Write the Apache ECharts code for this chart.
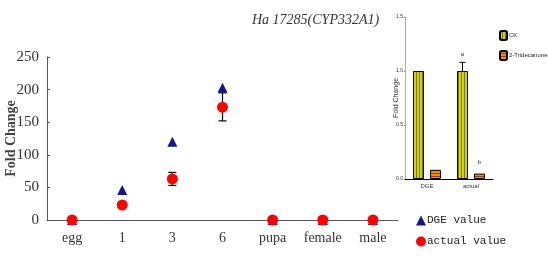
<!DOCTYPE html>
<html>
<head>
<meta charset="utf-8">
<script src="https://cdn.jsdelivr.net/npm/echarts@6/dist/echarts.min.js"></script>
<style>
html, body { margin: 0; padding: 0; background: #fff; }
#chart { width: 548px; height: 259px; }
</style>
</head>
<body>
<div id="chart"></div>
<script>
// main chart
var stages = ["egg", "1", "3", "6", "pupa", "female", "male"];
var dgeValues = [0, 46, 120, 203, 0, 0, 0];
var actualValues = [0, 23, 63, 173, 0, 0, 0];
var actualLow = [0, 23, 53, 152, 0, 0, 0];
var actualHigh = [0, 23, 73, 195, 0, 0, 0];
var mainTicks = [0, 50, 100, 150, 200, 250];

// inset chart
var insetCats = ["DGE", "actual"];
var ckValues = [1.0, 1.0];
var ckHigh = [1.0, 1.08];
var tridValues = [0.085, 0.05];
var ckLetters = ["", "a"];
var tridLetters = ["", "b"];

function stripes(bg, fg, vertical) {
	var c = document.createElement("canvas");
	c.width = 3;
	c.height = 3;
	var g = c.getContext("2d");
	g.fillStyle = bg;
	g.fillRect(0, 0, 3, 3);
	g.fillStyle = fg;
	if (vertical) g.fillRect(2, 0, 1, 3);
	else g.fillRect(0, 2, 3, 1);
	return { image: c, repeat: "repeat" };
}

var ckFill = stripes("#d4d400", "#7a7a00", true);
var tridFill = stripes("#ff8a00", "#a03c00", false);

function errorBar(capW) {
	return function (params, api) {
		var lo = api.coord([api.value(0), api.value(1)]);
		var hi = api.coord([api.value(0), api.value(2)]);
		if (Math.abs(lo[1] - hi[1]) < 0.5) return null;
		var st = { stroke: "#000", lineWidth: 1.2 };
		return {
			type: "group",
			children: [
				{ type: "line", shape: { x1: lo[0], y1: lo[1], x2: hi[0], y2: hi[1] }, style: st },
				{ type: "line", shape: { x1: lo[0] - capW, y1: lo[1], x2: lo[0] + capW, y2: lo[1] }, style: st },
				{ type: "line", shape: { x1: hi[0] - capW, y1: hi[1], x2: hi[0] + capW, y2: hi[1] }, style: st }
			]
		};
	};
}

var serif = "Liberation Serif";
var chart = echarts.init(document.getElementById("chart"));

chart.setOption({
	animation: false,
	title: {
		text: "Ha 17285(CYP332A1)",
		left: 247,
		top: 8,
		textStyle: { fontFamily: serif, fontStyle: "italic", fontWeight: "normal", fontSize: 14, color: "#333" }
	},
	legend: [{
		orient: "vertical",
		left: 411,
		top: 210,
		itemGap: 10,
		itemWidth: 10,
		itemHeight: 10,
		data: [
			{ name: "DGE value", icon: "triangle" },
			{ name: "actual value", icon: "circle" }
		],
		textStyle: { fontFamily: "Liberation Mono", fontSize: 11, color: "#222", padding: [0, 0, 0, -4] }
	}, {
		orient: "vertical",
		left: 494,
		top: 25,
		itemGap: 9,
		itemWidth: 7,
		itemHeight: 9,
		data: ["CK", "2-Tridecanone"],
		textStyle: { fontFamily: "Liberation Sans", fontSize: 6, color: "#222", padding: [0, 0, 0, -3] }
	}],
	grid: [
		{ left: 47, right: 150, top: 57, bottom: 39, outerBoundsMode: "none" },
		{ left: 405, right: 55, top: 17, bottom: 80, outerBoundsMode: "none" }
	],
	xAxis: [{
		type: "category",
		gridIndex: 0,
		data: stages,
		boundaryGap: true,
		axisLine: { lineStyle: { color: "#555" } },
		axisTick: { inside: true, length: 4, lineStyle: { color: "#555" } },
		axisLabel: { interval: 0, fontFamily: serif, fontSize: 14, color: "#333", margin: 11 }
	}, {
		type: "category",
		gridIndex: 1,
		data: insetCats,
		axisLine: { lineStyle: { color: "#000", width: 1.2 } },
		axisTick: { length: 2, lineStyle: { color: "#000" } },
		axisLabel: { interval: 0, fontFamily: "Liberation Sans", fontSize: 6, color: "#333", margin: 4 }
	}],
	yAxis: [{
		type: "value",
		gridIndex: 0,
		min: mainTicks[0],
		max: mainTicks[mainTicks.length - 1],
		interval: 50,
		name: "Fold Change",
		nameLocation: "middle",
		nameGap: 29,
		nameMoveOverlap: false,
		nameTextStyle: { fontFamily: serif, fontSize: 14, fontWeight: "bold", color: "#444" },
		splitLine: { show: false },
		axisLine: { show: true, lineStyle: { color: "#555" } },
		axisTick: { show: true, inside: true, length: 3, lineStyle: { color: "#555" } },
		axisLabel: { fontFamily: serif, fontSize: 15, color: "#333", margin: 8 }
	}, {
		type: "value",
		gridIndex: 1,
		min: 0,
		max: 1.5,
		interval: 0.5,
		name: "Fold Change",
		nameLocation: "middle",
		nameGap: 5,
		nameMoveOverlap: false,
		nameTextStyle: { fontFamily: "Liberation Sans", fontSize: 7, color: "#333" },
		splitLine: { show: false },
		axisLine: { show: true, lineStyle: { color: "#aaa" } },
		axisTick: { show: true, length: 1, lineStyle: { color: "#666" } },
		axisLabel: {
			fontFamily: "Liberation Sans", fontSize: 5, color: "#333", margin: 2,
			formatter: function (v) { return v.toFixed(1); }
		}
	}],
	series: [{
		name: "DGE value",
		type: "scatter",
		xAxisIndex: 0,
		yAxisIndex: 0,
		symbol: "triangle",
		symbolSize: 10,
		itemStyle: { color: "#14148c", opacity: 1 },
		data: dgeValues,
		z: 3
	}, {
		name: "actual error",
		type: "custom",
		xAxisIndex: 0,
		yAxisIndex: 0,
		renderItem: errorBar(4),
		data: stages.map(function (s, i) { return [i, actualLow[i], actualHigh[i]]; }),
		z: 2
	}, {
		name: "actual value",
		type: "scatter",
		xAxisIndex: 0,
		yAxisIndex: 0,
		symbol: "circle",
		symbolSize: 11,
		itemStyle: { color: "#ff0000", opacity: 1 },
		data: actualValues,
		z: 4
	}, {
		name: "CK",
		type: "bar",
		xAxisIndex: 1,
		yAxisIndex: 1,
		barWidth: 11,
		barGap: "55%",
		itemStyle: { color: ckFill, borderColor: "#000", borderWidth: 1 },
		label: {
			show: true, position: "top", distance: 14, fontSize: 6, color: "#333",
			formatter: function (p) { return ckLetters[p.dataIndex]; }
		},
		data: ckValues
	}, {
		name: "2-Tridecanone",
		type: "bar",
		xAxisIndex: 1,
		yAxisIndex: 1,
		barWidth: 11,
		itemStyle: { color: tridFill, borderColor: "#000", borderWidth: 1 },
		label: {
			show: true, position: "top", distance: 8, fontSize: 6, color: "#333",
			formatter: function (p) { return tridLetters[p.dataIndex]; }
		},
		data: tridValues
	}, {
		name: "ck error",
		type: "custom",
		xAxisIndex: 1,
		yAxisIndex: 1,
		renderItem: function (params, api) {
			var lo = api.coord([api.value(0), api.value(1)]);
			var hi = api.coord([api.value(0), api.value(2)]);
			if (Math.abs(lo[1] - hi[1]) < 0.5) return null;
			var x = lo[0] - 8.5;
			var st = { stroke: "#000", lineWidth: 1 };
			return {
				type: "group",
				children: [
					{ type: "line", shape: { x1: x, y1: lo[1], x2: x, y2: hi[1] }, style: st },
					{ type: "line", shape: { x1: x - 3, y1: hi[1], x2: x + 3, y2: hi[1] }, style: st }
				]
			};
		},
		data: insetCats.map(function (c, i) { return [i, ckValues[i], ckHigh[i]]; }),
		z: 5
	}]
});
</script>
</body>
</html>
